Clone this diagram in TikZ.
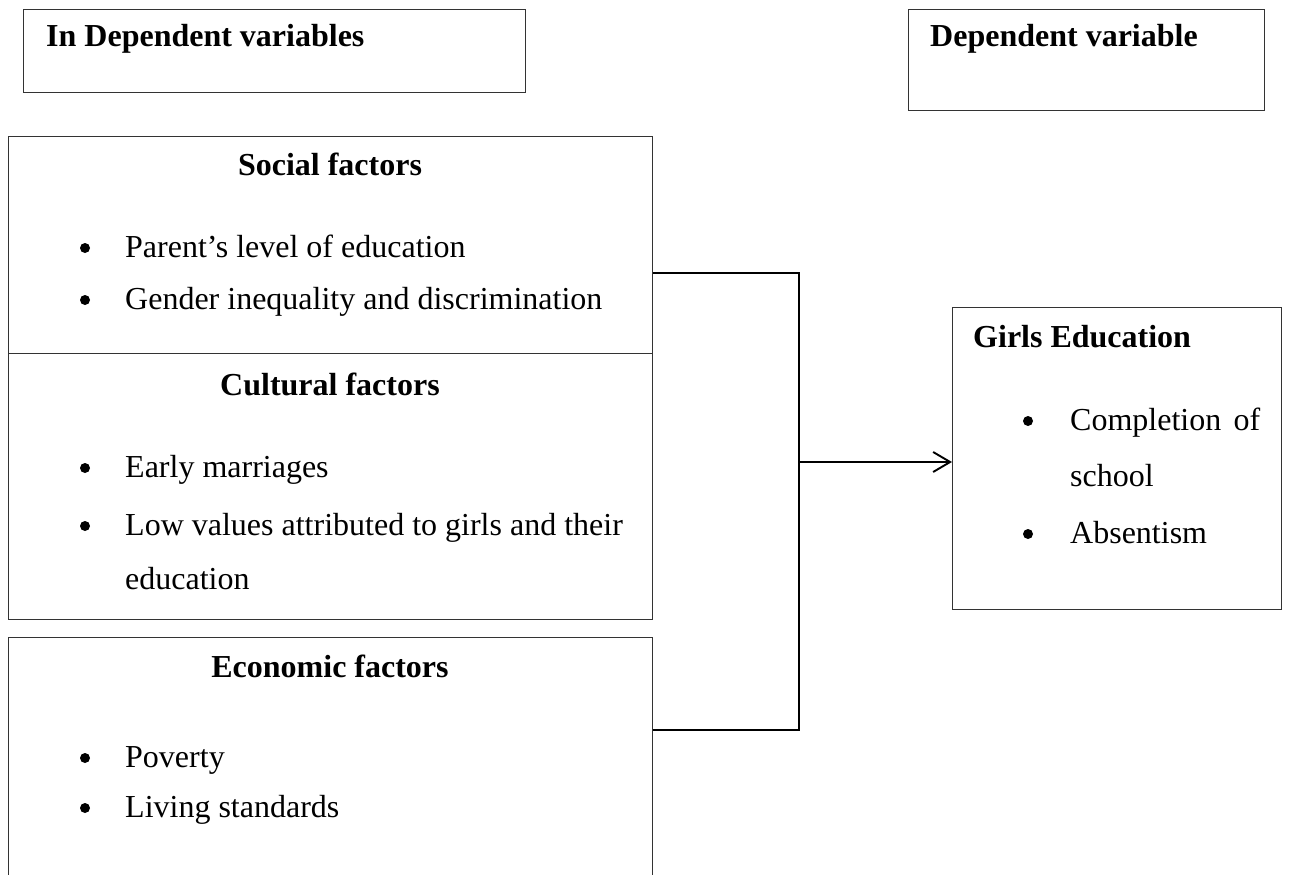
\documentclass[tikz,border=0pt]{standalone}
\usepackage{fontspec}
\setmainfont{Liberation Serif}
\usetikzlibrary{arrows.meta}
\begin{document}
\begin{tikzpicture}[x=1pt,y=-1pt,
  box/.style={draw=black!80, line width=1.4pt, inner sep=0pt, anchor=north west},
  conn/.style={draw=black, line width=1.9pt},
  head/.style={font=\fontsize{32}{38}\selectfont\bfseries, anchor=base, inner sep=0pt},
  headw/.style={font=\fontsize{32}{38}\selectfont\bfseries, anchor=base west, inner sep=0pt},
  body/.style={font=\fontsize{32}{38}\selectfont, anchor=base west, inner sep=0pt},
  bul/.style={circle, fill=black, inner sep=0pt, minimum size=10pt, yshift=9pt}]
\useasboundingbox (0,0) rectangle (1296,875);
\clip (0,0) rectangle (1296,875);
% boxes
\node[box, minimum width=502pt, minimum height=83pt] (indep) at (23,9) {};
\node[box, minimum width=356pt, minimum height=101pt] (dep) at (908,9) {};
\node[box, minimum width=644pt, minimum height=217pt] (social) at (8,136) {};
\node[box, minimum width=644pt, minimum height=266pt] (cultural) at (8,353) {};
\node[box, minimum width=644pt, minimum height=270pt] (econ) at (8,637) {};
\node[box, minimum width=329pt, minimum height=302pt] (girls) at (952,307) {};
% header texts
\node[headw] (tindep) at (46,47) {In Dependent variables};
\node[headw] (tdep) at (930,47) {Dependent variable};
% social
\node[head] (tsocial) at (330,175) {Social factors};
\node[bul] (b1) at (85,257) {};
\node[body] (s1) at (125,257) {Parent’s level of education};
\node[bul] (b2) at (85,309) {};
\node[body] (s2) at (125,309) {Gender inequality and discrimination};
% cultural
\node[head] (tcult) at (330,395) {Cultural factors};
\node[bul] (b3) at (85,477) {};
\node[body] (c1) at (125,477) {Early marriages};
\node[bul] (b4) at (85,535) {};
\node[body] (c2) at (125,535) {Low values attributed to girls and their};
\node[body] (c3) at (125,589) {education};
% economic
\node[head] (tecon) at (330,677) {Economic factors};
\node[bul] (b5) at (85,767) {};
\node[body] (e1) at (125,767) {Poverty};
\node[bul] (b6) at (85,817) {};
\node[body] (e2) at (125,817) {Living standards};
% girls
\node[headw] (tgirls) at (973,347) {Girls Education};
\node[bul] (b7) at (1028,430) {};
\node[body] (g1) at (1070,430) {\hbox to 190pt{Completion\hfill of}};
\node[body] (g2) at (1070,486) {school};
\node[bul] (b8) at (1028,543) {};
\node[body] (g3) at (1070,543) {Absentism};
% connectors
\coordinate (jt) at (799,273);
\coordinate (jb) at (799,730);
\coordinate (jm) at (799,462);
\draw[conn] (social.north east |- jt) -- (jt) -- (jb) -- (econ.north east |- jb);
\draw[conn, -{Straight Barb[length=17pt,width=20pt]}] (jm) -- (girls.west |- jm);
\end{tikzpicture}
\end{document}
